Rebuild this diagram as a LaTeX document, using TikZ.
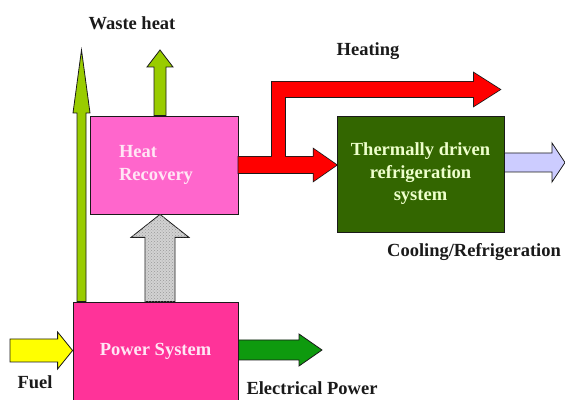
\documentclass[tikz,border=0pt]{standalone}
\usepackage{fontspec}
\setmainfont{Liberation Serif}
\usetikzlibrary{calc,patterns}
\definecolor{ink}{HTML}{1A1A1A}
\definecolor{recov}{HTML}{FF66CC}
\definecolor{power}{HTML}{FF3399}
\definecolor{pinktxt}{HTML}{FFE6F5}
\definecolor{cooler}{HTML}{336600}
\definecolor{coolertxt}{HTML}{EEFFCC}
\definecolor{leaf}{HTML}{99CC00}
\definecolor{hot}{HTML}{FF0000}
\definecolor{lilac}{HTML}{CCCCFF}
\definecolor{fuelc}{HTML}{FFFF00}
\definecolor{elecc}{HTML}{0E9A0E}
\tikzset{box/.style={draw=ink,line width=.8pt,font=\bfseries\fontsize{18.5}{22.5}\selectfont},
  lbl/.style={text=ink,font=\bfseries\fontsize{18.5}{22}\selectfont},
  bshaft/.store in=\bashaft,bhead/.store in=\bahead,blen/.store in=\balen,
  bshaft=6pt,bhead=13pt,blen=17pt,
  blockarrow/.style={to path={($(\tikztostart)!\bashaft!90:(\tikztotarget)$)
    --($(\tikztotarget)!\balen!(\tikztostart)!\bashaft!90:(\tikztotarget)$)
    --($(\tikztotarget)!\balen!(\tikztostart)!\bahead!90:(\tikztotarget)$)
    --(\tikztotarget)
    --($(\tikztotarget)!\balen!(\tikztostart)!\bahead!-90:(\tikztotarget)$)
    --($(\tikztotarget)!\balen!(\tikztostart)!\bashaft!-90:(\tikztotarget)$)
    --($(\tikztostart)!\bashaft!-90:(\tikztotarget)$)--cycle}},
  arrowrim/.style={draw=ink,line width=.8pt},
  rimpass/.style={draw=ink,line width=1.6pt}}

\begin{document}
\begin{tikzpicture}[x=1pt,y=1pt]
\useasboundingbox (0,0) rectangle (565,399);
% blocks
\node[box,fill=recov,text=pinktxt,minimum width=148pt,minimum height=98pt,text width=90pt,inner xsep=29pt,align=left] (hr) at (164,234) {Heat\\Recovery};
\node[box,fill=power,text=pinktxt,minimum width=165pt,minimum height=99pt] (pw) at (155.5,47.5) {Power System};
\node[box,fill=cooler,text=coolertxt,minimum width=167pt,minimum height=116pt,align=center] (trd) at (420.5,225) {Thermally driven\\refrigeration\\system};
% end points of the flows
\coordinate (waste-top) at (81.5,349);
\coordinate (waste-bot) at (waste-top |- pw.north);
\coordinate (rec-top) at (160,349);
\coordinate (rec-bot) at (rec-top |- hr.north);
\coordinate (heat-bot) at (rec-top |- pw.north);
\coordinate (heat-top) at (rec-top |- hr.south);
\coordinate (red-in) at (hr.east);
\coordinate (red-tip) at (hr.east -| trd.west);
\coordinate (split) at (278.5,234);
\coordinate (split-top) at (278.5,317);
\coordinate (heat-start) at (272,309.5);
\coordinate (heat-end) at (500,309.5);
\coordinate (cool-tip) at (565,236.5);
\coordinate (cool-in) at (trd.east |- cool-tip);
\coordinate (fuel-in) at (10,48.5);
\coordinate (fuel-tip) at (pw.west |- fuel-in);
\coordinate (elec-tip) at (322,49);
\coordinate (elec-in) at (pw.east |- elec-tip);
% flows
\draw[blockarrow,arrowrim,fill=leaf,bshaft=4.5pt,bhead=8.5pt,blen=63pt] (waste-bot) to (waste-top);
\draw[blockarrow,arrowrim,fill=leaf,bshaft=6pt,bhead=13pt,blen=17pt] (rec-bot) to (rec-top);
\draw[blockarrow,arrowrim,fill=gray!35,postaction={pattern=crosshatch dots,pattern color=gray!80},bshaft=15pt,bhead=29pt,blen=23pt] (heat-bot) to (heat-top);
\path[blockarrow,rimpass,bshaft=8pt,bhead=16pt,blen=23pt] (red-in) to (red-tip);
\path[blockarrow,rimpass,bshaft=7.5pt,bhead=16.5pt,blen=26pt] (heat-start) to (heat-end);
\draw[ink,line width=14.6pt] (split) -- (split-top);
\fill[blockarrow,hot,bshaft=8pt,bhead=16pt,blen=23pt] (red-in) to (red-tip);
\fill[blockarrow,hot,bshaft=7.5pt,bhead=16.5pt,blen=26pt] (heat-start) to (heat-end);
\draw[hot,line width=13pt] (split) -- (split-top);
\draw[blockarrow,arrowrim,fill=lilac,bshaft=9.5pt,bhead=19.5pt,blen=13pt] (cool-in) to (cool-tip);
\draw[blockarrow,arrowrim,fill=fuelc,bshaft=11.5pt,bhead=18.5pt,blen=15pt] (fuel-in) to (fuel-tip);
\draw[blockarrow,arrowrim,fill=elecc,bshaft=10pt,bhead=16pt,blen=23pt] (elec-in) to (elec-tip);
% labels
\node[lbl] (waste) at (132,376) {Waste heat};
\node[lbl] (heating) at (368,348) {Heating};
\node[lbl] (cooling) at (474,147) {Cooling/Refrigeration};
\node[lbl] (fuel) at (35,17) {Fuel};
\node[lbl] (elec) at (312,11) {Electrical Power};
\end{tikzpicture}
\end{document}
